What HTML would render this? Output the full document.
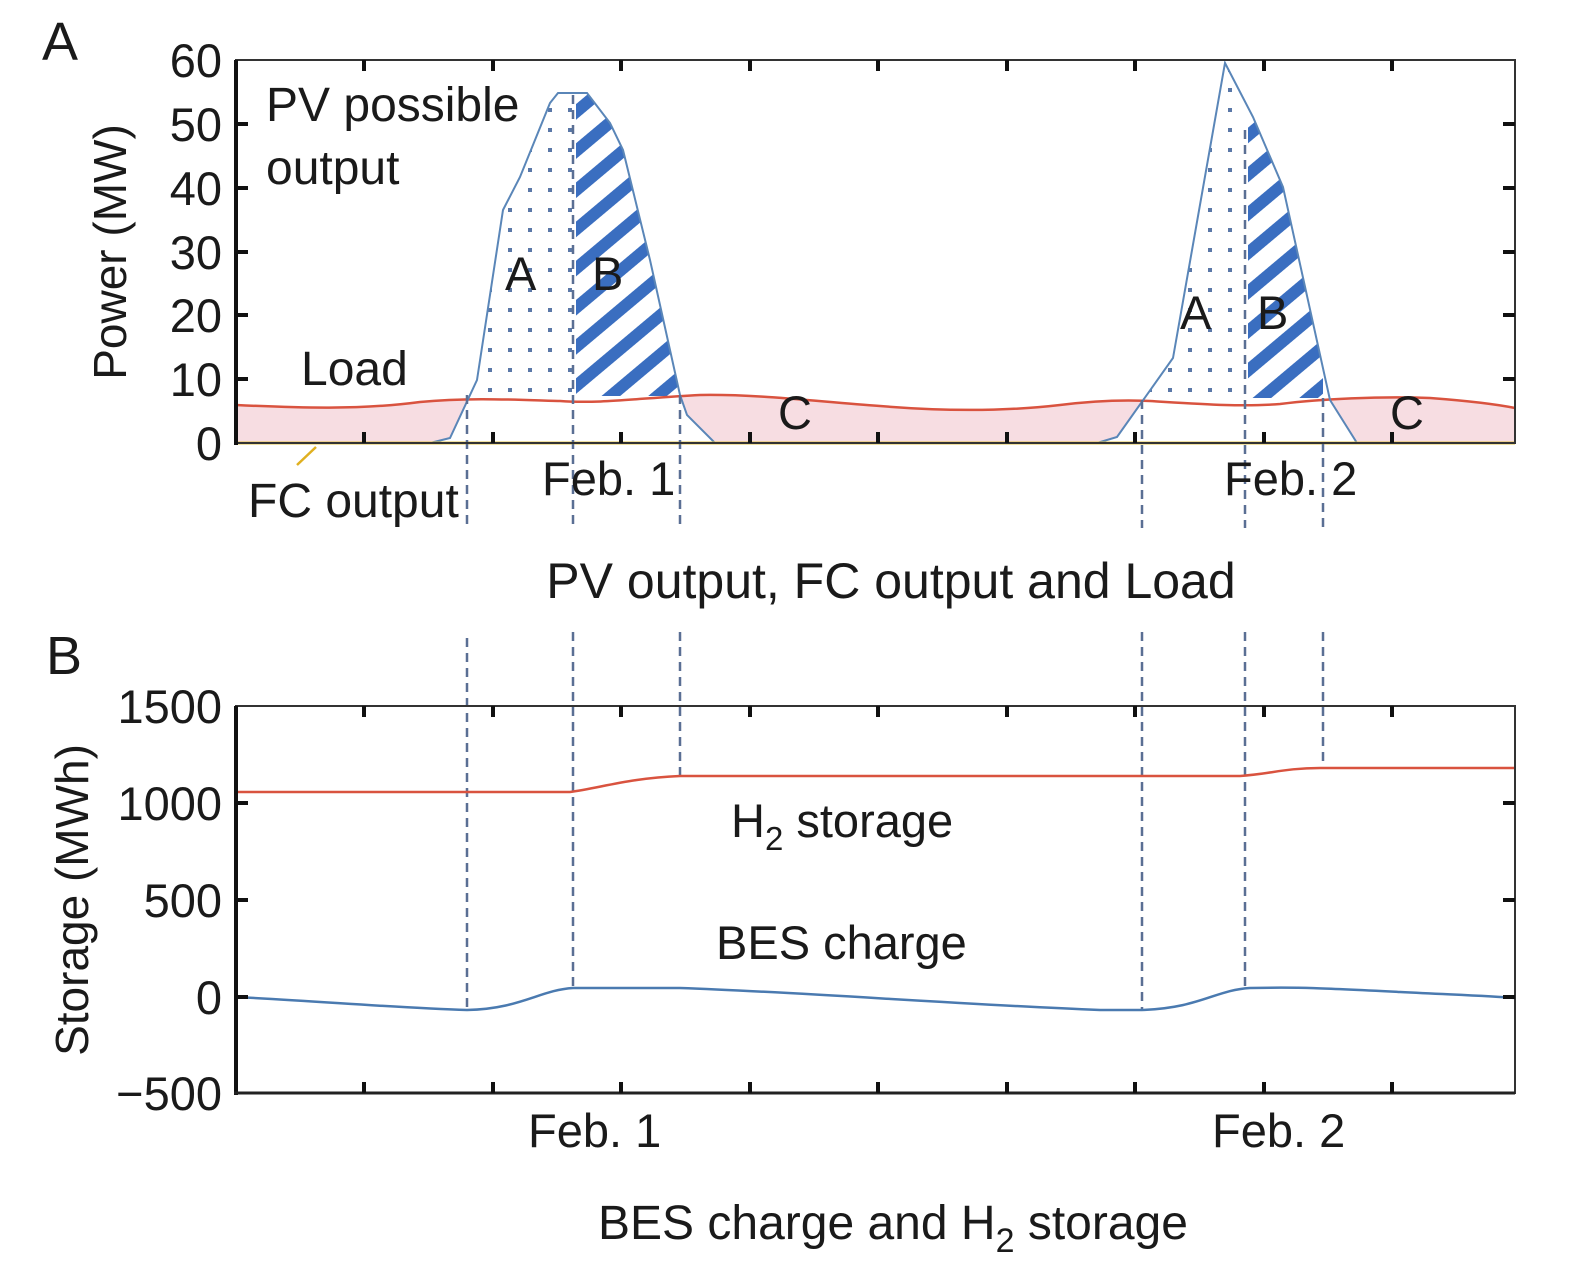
<!DOCTYPE html>
<html><head><meta charset="utf-8"><style>
html,body{margin:0;padding:0;background:#fff}
svg{display:block}
text{font-family:"Liberation Sans",Arial,sans-serif;fill:#1a1a1a}
</style></head><body>
<svg width="1575" height="1274" viewBox="0 0 1575 1274" xmlns="http://www.w3.org/2000/svg">
<defs>
<pattern id="hatch" width="30" height="30" patternUnits="userSpaceOnUse" patternTransform="rotate(-40)">
<rect x="0" y="0" width="30" height="12" fill="#3a6ec0"/>
</pattern>
<pattern id="dots" width="20" height="20" patternUnits="userSpaceOnUse">
<rect x="8" y="8" width="4" height="4" fill="#5a78a8"/>
</pattern>
<clipPath id="pv1"><polygon points="430,443 450,438 477,380 503,210 520,177 550,103 558,93 587,93 610,123 623,150 650,260 680,395 687,415 715,443"/></clipPath>
<clipPath id="pv2"><polygon points="1097,443 1117,437 1173,358 1225,63 1253,117 1283,187 1330,400 1357,443"/></clipPath>
</defs>

<text x="42" y="60" font-size="54">A</text>
<path d="M236,405 C300,408 360,410 420,402 C470,397 520,400 560,401 C600,404 640,398 700,395 C760,394 820,402 880,406 C940,411 1000,412 1060,405 C1100,400 1130,400 1150,401 C1200,404 1240,407 1280,404 C1320,399 1380,396 1430,398 C1470,401 1500,405 1515,408 L1515,443 L236,443 Z" fill="#f7dde2"/>
<polygon points="430,443 450,438 477,380 503,210 520,177 550,103 558,93 587,93 610,123 623,150 650,260 680,395 687,415 715,443" fill="#fff"/>
<polygon points="1097,443 1117,437 1173,358 1225,63 1253,117 1283,187 1330,400 1357,443" fill="#fff"/>
<g clip-path="url(#pv1)">
<rect x="470" y="60" width="103" height="338" fill="url(#dots)"/>
<rect x="576" y="60" width="104" height="336" fill="url(#hatch)"/>
</g>
<g clip-path="url(#pv2)">
<rect x="1142" y="60" width="103" height="340" fill="url(#dots)"/>
<rect x="1248" y="60" width="75" height="338" fill="url(#hatch)"/>
</g>
<path d="M236,405 C300,408 360,410 420,402 C470,397 520,400 560,401 C600,404 640,398 700,395 C760,394 820,402 880,406 C940,411 1000,412 1060,405 C1100,400 1130,400 1150,401 C1200,404 1240,407 1280,404 C1320,399 1380,396 1430,398 C1470,401 1500,405 1515,408" fill="none" stroke="#d9533f" stroke-width="2.5"/>
<polyline points="236,443 430,443 450,438 477,380 503,210 520,177 550,103 558,93 587,93 610,123 623,150 650,260 680,395 687,415 715,443 1097,443 1117,437 1173,358 1225,63 1253,117 1283,187 1330,400 1357,443 1515,443" fill="none" stroke="#5a86b8" stroke-width="2"/>
<line x1="236" y1="443" x2="1515" y2="443" stroke="#e0c040" stroke-width="3"/>
<line x1="297" y1="465" x2="316" y2="447" stroke="#e0b020" stroke-width="2.5"/>
<g stroke="#5a6f94" stroke-width="2.5" stroke-dasharray="9,6">
<line x1="467" y1="395" x2="467" y2="528"/>
<line x1="573" y1="95" x2="573" y2="528"/>
<line x1="680" y1="395" x2="680" y2="528"/>
<line x1="1142" y1="400" x2="1142" y2="528"/>
<line x1="1245" y1="130" x2="1245" y2="528"/>
<line x1="1323" y1="398" x2="1323" y2="528"/>
</g>
<rect x="236" y="60" width="1279" height="383" fill="none" stroke="#333" stroke-width="2"/>
<line x1="236" y1="60" x2="236" y2="445" stroke="#111" stroke-width="4"/>
<g stroke="#111" stroke-width="4">
<line x1="236" y1="124" x2="248" y2="124"/><line x1="236" y1="188" x2="248" y2="188"/><line x1="236" y1="252" x2="248" y2="252"/><line x1="236" y1="315" x2="248" y2="315"/><line x1="236" y1="379" x2="248" y2="379"/>
<line x1="1515" y1="124" x2="1503" y2="124"/><line x1="1515" y1="188" x2="1503" y2="188"/><line x1="1515" y1="252" x2="1503" y2="252"/><line x1="1515" y1="315" x2="1503" y2="315"/><line x1="1515" y1="379" x2="1503" y2="379"/>
</g>
<g stroke="#111" stroke-width="4">
<path d="M364,60v11M493,60v11M621,60v11M750,60v11M878,60v11M1007,60v11M1135,60v11M1264,60v11M1392,60v11"/>
<path d="M364,443v-11M493,443v-11M621,443v-11M750,443v-11M878,443v-11M1007,443v-11M1135,443v-11M1264,443v-11M1392,443v-11"/>
</g>
<g font-size="47" text-anchor="end">
<text x="222" y="77">60</text><text x="222" y="141">50</text><text x="222" y="205">40</text><text x="222" y="269">30</text><text x="222" y="332">20</text><text x="222" y="396">10</text><text x="222" y="460">0</text>
</g>
<text transform="translate(126,252) rotate(-90)" font-size="46" text-anchor="middle">Power (MW)</text>
<text x="266" y="121" font-size="48">PV possible</text>
<text x="266" y="184" font-size="48">output</text>
<text x="301" y="385" font-size="48">Load</text>
<text x="248" y="517" font-size="48">FC output</text>
<text x="505" y="290" font-size="47">A</text><text x="592" y="290" font-size="47">B</text>
<text x="1180" y="329" font-size="47">A</text><text x="1257" y="329" font-size="47">B</text>
<text x="778" y="429" font-size="47">C</text><text x="1390" y="429" font-size="47">C</text>
<text x="542" y="495" font-size="47">Feb. 1</text>
<text x="1224" y="495" font-size="47">Feb. 2</text>
<text x="891" y="598" font-size="50" text-anchor="middle">PV output, FC output and Load</text>

<text x="46" y="674" font-size="54">B</text>
<g stroke="#5a6f94" stroke-width="2.5" stroke-dasharray="9,6">
<line x1="467" y1="638" x2="467" y2="1010"/>
<line x1="573" y1="632" x2="573" y2="988"/>
<line x1="680" y1="632" x2="680" y2="775"/>
<line x1="1142" y1="632" x2="1142" y2="1010"/>
<line x1="1245" y1="632" x2="1245" y2="988"/>
<line x1="1323" y1="632" x2="1323" y2="765"/>
</g>
<path d="M236,792 L570,792 C600,788 630,778 680,776 L1240,776 C1270,774 1285,768 1320,768 L1515,768" fill="none" stroke="#d9533f" stroke-width="2.5"/>
<path d="M236,997 C330,1002 400,1008 467,1010 C520,1009 540,990 573,988 L680,988 C800,992 950,1004 1100,1010 L1142,1010 C1200,1008 1215,990 1250,988 C1300,987 1320,988 1400,992 C1460,995 1490,996 1515,998" fill="none" stroke="#4a7ab0" stroke-width="2.5"/>
<rect x="236" y="706" width="1279" height="387" fill="none" stroke="#333" stroke-width="2"/>
<line x1="236" y1="706" x2="236" y2="1095" stroke="#111" stroke-width="4"/>
<line x1="234" y1="1093" x2="1515" y2="1093" stroke="#222" stroke-width="3"/>
<g stroke="#111" stroke-width="4">
<path d="M236,803h12M236,900h12M236,997h12M1515,803h-12M1515,900h-12M1515,997h-12"/>
<path d="M364,706v11M493,706v11M621,706v11M750,706v11M878,706v11M1007,706v11M1135,706v11M1264,706v11M1392,706v11"/>
<path d="M364,1093v-11M493,1093v-11M621,1093v-11M750,1093v-11M878,1093v-11M1007,1093v-11M1135,1093v-11M1264,1093v-11M1392,1093v-11"/>
</g>
<g font-size="47" text-anchor="end">
<text x="222" y="723">1500</text><text x="222" y="820">1000</text><text x="222" y="917">500</text><text x="222" y="1014">0</text><text x="222" y="1110">−500</text>
</g>
<text transform="translate(88,900) rotate(-90)" font-size="46" text-anchor="middle">Storage (MWh)</text>
<text x="731" y="837" font-size="47">H<tspan font-size="33" dy="13">2</tspan><tspan dy="-13"> storage</tspan></text>
<text x="716" y="959" font-size="47">BES charge</text>
<text x="528" y="1147" font-size="47">Feb. 1</text>
<text x="1212" y="1147" font-size="47">Feb. 2</text>
<text x="598" y="1239" font-size="48">BES charge and H<tspan font-size="34" dy="13">2</tspan><tspan dy="-13"> storage</tspan></text>
</svg>
</body></html>
